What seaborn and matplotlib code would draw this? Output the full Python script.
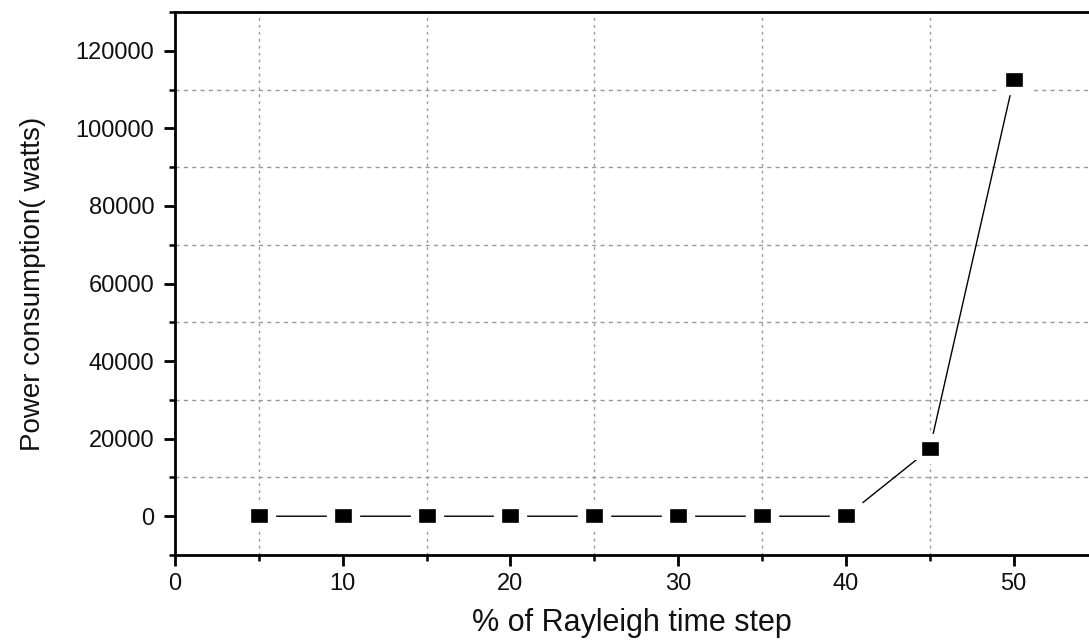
import matplotlib
matplotlib.use("Agg")
import matplotlib.pyplot as plt
from matplotlib.ticker import MultipleLocator
import seaborn as sns
import pandas as pd

rayleigh_pct = [5, 10, 15, 20, 25, 30, 35, 40, 45, 50]
power_watts = [0, 0, 0, 0, 0, 0, 0, 0, 17300, 112400]

sns.set_theme(style="white")
plt.rcParams['font.family'] = ['Liberation Sans', 'DejaVu Sans']

df = pd.DataFrame({"x": rayleigh_pct, "y": power_watts})

fig = plt.figure(figsize=(10.89, 6.42), dpi=100)
ax = fig.add_axes([0.1607, 0.1355, 0.8393, 0.8458])

# slightly wide square marker (reference is horizontally stretched)
wide_square = [(-1.15, -1.0), (1.15, -1.0), (1.15, 1.0), (-1.15, 1.0), (-1.15, -1.0)]

sns.lineplot(data=df, x="x", y="y", ax=ax, color="black", linewidth=1.0,
             marker=wide_square, markersize=18, markerfacecolor="black",
             markeredgecolor="white", markeredgewidth=6, zorder=5)

ax.set_xlim(0, 54.5)
ax.set_ylim(-10000, 130000)
ax.xaxis.set_major_locator(MultipleLocator(10))
ax.xaxis.set_minor_locator(MultipleLocator(5))
ax.yaxis.set_major_locator(MultipleLocator(20000))
ax.yaxis.set_minor_locator(MultipleLocator(10000))

# grid at minor positions only
ax.grid(False)
for xv in range(5, 55, 10):
    ax.axvline(xv, color="#999999", lw=1.0, ls=(0, (2, 3)), zorder=1)
for yv in range(10000, 130000, 20000):
    ax.axhline(yv, color="#999999", lw=1.0, ls=(0, (3, 3)), zorder=1)

for s in ["left", "bottom", "top"]:
    ax.spines[s].set_color("black")
    ax.spines[s].set_linewidth(2.0)
ax.spines["right"].set_visible(False)

ax.tick_params(axis="both", which="major", direction="out", length=8, width=2,
               color="black", labelsize=17, labelcolor="#111111",
               left=True, bottom=True)
ax.tick_params(axis="y", which="major", pad=7)
ax.tick_params(axis="x", which="major", pad=5)
ax.tick_params(axis="both", which="minor", direction="out", length=4, width=1.8,
               color="black", left=True, bottom=True)

ax.set_xlabel("% of Rayleigh time step", fontsize=22, color="#111111", labelpad=9)
ax.set_ylabel("Power consumption( watts)", fontsize=20, color="#111111", labelpad=21)

fig.savefig("out.png", dpi=100)
